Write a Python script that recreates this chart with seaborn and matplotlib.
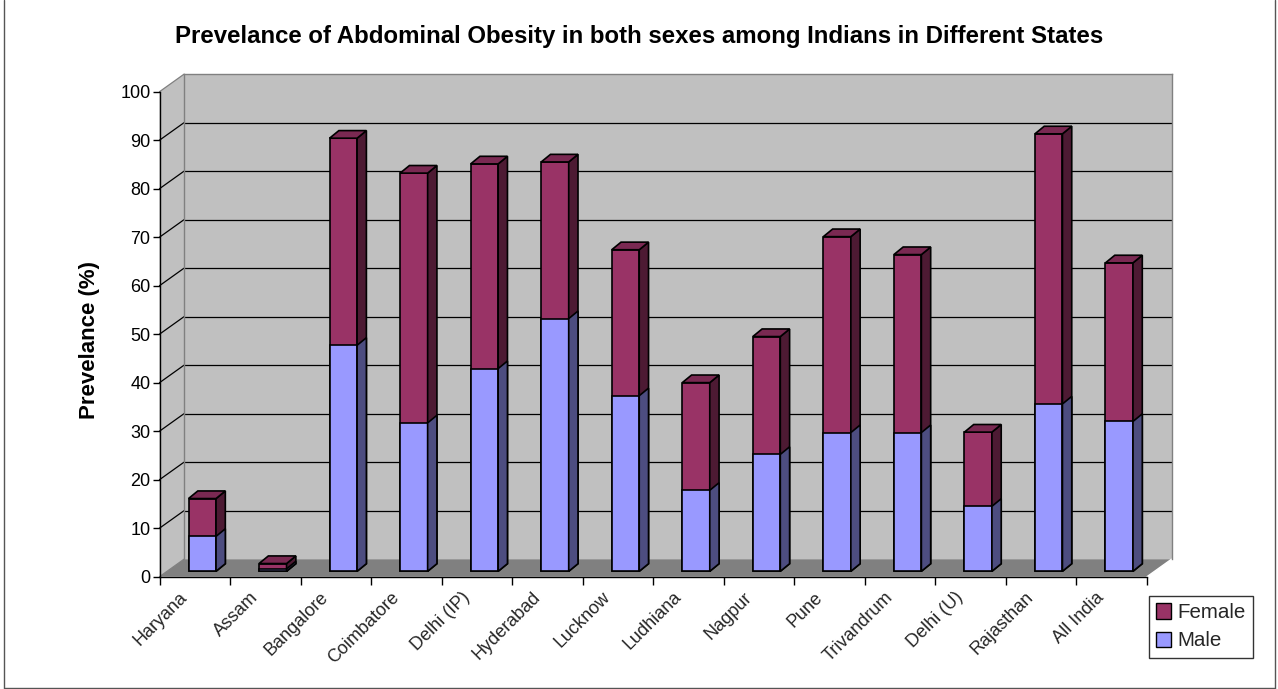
import numpy as np
import pandas as pd
import matplotlib
matplotlib.use("Agg")
import matplotlib.pyplot as plt
import seaborn as sns
from matplotlib.patches import Polygon, Patch
from matplotlib.lines import Line2D
from matplotlib.transforms import ScaledTranslation, IdentityTransform

# ---- data -------------------------------------------------------------
states = ["Haryana", "Assam", "Bangalore", "Coimbatore", "Delhi (IP)", "Hyderabad",
          "Lucknow", "Ludhiana", "Nagpur", "Pune", "Trivandrum", "Delhi (U)",
          "Rajasthan", "All India"]
male = [7.2, 0.5, 46.6, 30.6, 41.8, 52.1, 36.2, 16.7, 24.1, 28.6, 28.6, 13.4, 34.5, 30.9]
female = [7.8, 1.1, 42.7, 51.5, 42.2, 32.3, 30.1, 22.2, 24.3, 40.4, 36.7, 15.3, 55.7, 32.7]
y_ticks = list(range(0, 101, 10))

title = "Prevelance of Abdominal Obesity in both sexes among Indians in Different States"
y_title = "Prevelance (%)"

df = pd.DataFrame({"State": states, "Male": male, "Female": female})
df["Total"] = df["Male"] + df["Female"]
n = len(states)

# ---- style ------------------------------------------------------------
sns.set_style("white")
plt.rcParams["font.family"] = ["Liberation Sans", "DejaVu Sans"]

FEMALE_FRONT, FEMALE_SIDE, FEMALE_TOP = "#993366", "#4D1A33", "#7A2952"
MALE_FRONT, MALE_SIDE = "#9999FF", "#4D4D80"
WALL, FLOOR, EDGE_GREY = "#C0C0C0", "#808080", "#808080"

W, H = 1278, 689
fig = plt.figure(figsize=(W / 100, H / 100), dpi=100)
fig.patch.set_facecolor("white")


def rect(left, right, y0, y100):
    return [left / W, 1 - y0 / H, (right - left) / W, (y0 - y100) / H]


# front plane of the 3-D box, back wall and bar plane (pixel layout)
FL, FR, FY0, FY100 = 159.5, 1147.0, 576.7, 91.7
WALL_DX, WALL_DY = 24.5, -17.5
BAR_DX, BAR_DY = 7.5, -5.4
DEPTH_PX = (9.3, 7.6)

wall = fig.add_axes(rect(FL + WALL_DX, FR + WALL_DX, FY0 + WALL_DY, FY100 + WALL_DY), zorder=0)
front = fig.add_axes(rect(FL, FR, FY0, FY100), zorder=1)
ax = fig.add_axes(rect(FL + BAR_DX, FR + BAR_DX, FY0 + BAR_DY, FY100 + BAR_DY), zorder=2)

for a in (wall, front, ax):
    a.set_xlim(-0.5, n - 0.5)
    a.set_ylim(0, 100)

# back wall with gridlines
wall.set_facecolor(WALL)
wall.set_yticks(y_ticks[1:-1])
wall.set_xticks([])
wall.tick_params(length=0, labelleft=False, labelbottom=False)
wall.grid(axis="y", color="black", linewidth=0.9)
for s in ("top", "left", "right"):
    wall.spines[s].set_color(EDGE_GREY)
    wall.spines[s].set_linewidth(1)
wall.spines["bottom"].set_visible(False)


def fp(x, y):
    return front.transData.transform((x, y))


def wp(x, y):
    return wall.transData.transform((x, y))


# left side wall and floor
side = Polygon([fp(-0.5, 0), fp(-0.5, 100), wp(-0.5, 100), wp(-0.5, 0)],
               closed=True, facecolor=WALL, edgecolor="none",
               transform=IdentityTransform(), clip_on=False, zorder=0.5)
floor = Polygon([fp(-0.5, 0), fp(n - 0.5, 0), wp(n - 0.5, 0), wp(-0.5, 0)],
                closed=True, facecolor=FLOOR, edgecolor="none",
                transform=IdentityTransform(), clip_on=False, zorder=0.6)
wall.add_patch(side)
wall.add_patch(floor)
for k in y_ticks:
    col = "black" if 0 < k < 100 else EDGE_GREY
    p0, p1 = fp(-0.5, k), wp(-0.5, k)
    wall.add_line(Line2D([p0[0], p1[0]], [p0[1], p1[1]], color=col, lw=0.9,
                         transform=IdentityTransform(), clip_on=False, zorder=0.7))
p0, p1 = fp(n - 0.5, 0), wp(n - 0.5, 0)
wall.add_line(Line2D([p0[0], p1[0]], [p0[1], p1[1]], color="white", lw=1,
                     transform=IdentityTransform(), clip_on=False, zorder=0.7))

# front axes: value axis and category axis
front.patch.set_visible(False)
for s in ("top", "right"):
    front.spines[s].set_visible(False)
for s in ("left", "bottom"):
    front.spines[s].set_color("black")
    front.spines[s].set_linewidth(1)
front.set_yticks(y_ticks)
front.set_yticklabels([str(v) for v in y_ticks])
front.tick_params(axis="y", direction="out", length=5, width=1, pad=1.5,
                  labelsize=13, colors="black", left=True)
front.set_xticks(range(n))
front.set_xticks(np.arange(-0.5, n, 1), minor=True)
front.tick_params(axis="x", which="major", length=0, pad=13, labelsize=13)
front.tick_params(axis="x", which="minor", direction="out", length=6, width=1,
                  color="black", bottom=True)
front.set_xticklabels(states)
shift = ScaledTranslation(-10 / 100, 0, fig.dpi_scale_trans)
for lbl in front.get_xticklabels():
    lbl.set_rotation(45)
    lbl.set_ha("right")
    lbl.set_va("center")
    lbl.set_rotation_mode("anchor")
    lbl.set_transform(lbl.get_transform() + shift)

# bars (front faces) drawn with seaborn
ax.patch.set_visible(False)
for s in ax.spines.values():
    s.set_visible(False)
sns.barplot(data=df, x="State", y="Total", color=FEMALE_FRONT, saturation=1,
            width=0.39, edgecolor="black", linewidth=1.2, ax=ax, zorder=2)
sns.barplot(data=df, x="State", y="Male", color=MALE_FRONT, saturation=1,
            width=0.39, edgecolor="black", linewidth=1.2, ax=ax, zorder=3)
ax.set_xlim(-0.5, n - 0.5)
ax.set_ylim(0, 100)
ax.set_xticks([])
ax.set_yticks([])
ax.set_xlabel("")
ax.set_ylabel("")

# depth faces for each bar, derived from the bar rectangles
x_px = (ax.transData.transform((1, 0)) - ax.transData.transform((0, 0)))[0]
y_px = (ax.transData.transform((0, 1)) - ax.transData.transform((0, 0)))[1]
ddx, ddy = DEPTH_PX[0] / x_px, DEPTH_PX[1] / y_px


def add_depth(bar, side_color, top_color, z):
    x0, y0 = bar.get_x(), bar.get_y()
    x1, y1 = x0 + bar.get_width(), y0 + bar.get_height()
    side_face = Polygon([(x1, y0), (x1 + ddx, y0 + ddy), (x1 + ddx, y1 + ddy), (x1, y1)],
                        closed=True, facecolor=side_color, edgecolor="black",
                        linewidth=1.2, clip_on=False, zorder=z)
    ax.add_patch(side_face)
    if top_color is not None:
        top_face = Polygon([(x0, y1), (x0 + ddx, y1 + ddy), (x1 + ddx, y1 + ddy), (x1, y1)],
                           closed=True, facecolor=top_color, edgecolor="black",
                           linewidth=1.2, clip_on=False, zorder=z)
        ax.add_patch(top_face)


for bar in ax.containers[0]:
    bar.set_clip_on(False)
    add_depth(bar, FEMALE_SIDE, FEMALE_TOP, 2)
for bar in ax.containers[1]:
    bar.set_clip_on(False)
    add_depth(bar, MALE_SIDE, None, 3)

# titles
fig.text(0.5, 1 - 37 / H, title, ha="center", va="center",
         fontsize=17.3, fontweight="bold", color="black")
fig.text(90 / W, 1 - 340 / H, y_title, rotation=90, ha="center", va="center",
         fontsize=16, fontweight="bold", color="black")

# legend
handles = [Patch(facecolor=FEMALE_FRONT, edgecolor="black", linewidth=1, label="Female"),
           Patch(facecolor=MALE_FRONT, edgecolor="black", linewidth=1, label="Male")]
leg = fig.legend(handles=handles, loc="upper left",
                 bbox_to_anchor=(1148.7 / W, 1 - 596 / H), bbox_transform=fig.transFigure,
                 frameon=True, fancybox=False, edgecolor="black", fontsize=14.8,
                 handlelength=0.75, handleheight=0.75, handletextpad=0.3,
                 borderpad=0.35, labelspacing=0.45, borderaxespad=0)
leg.get_frame().set_linewidth(1)
leg.set_zorder(5)

# outer frame
for xs, ys in (([3.5, 3.5], [0, 687.5]), ([1274.5, 1274.5], [0, 687.5]),
               ([3.5, 1274.5], [687.5, 687.5])):
    fig.add_artist(Line2D([x / W for x in xs], [1 - y / H for y in ys],
                          color="#555555", lw=1, transform=fig.transFigure))

fig.savefig("out.png", dpi=100, facecolor="white")
